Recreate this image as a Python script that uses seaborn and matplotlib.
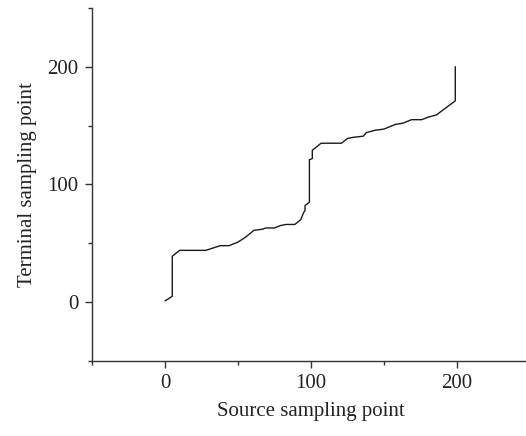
import matplotlib
matplotlib.use("Agg")
import matplotlib.pyplot as plt
import seaborn as sns
import pandas as pd
from matplotlib.ticker import MultipleLocator

source_pts = [0, 5, 5, 10, 28, 33, 38, 44, 50, 55, 61, 67, 69, 75, 79, 83, 89, 93, 94, 95, 96, 96, 99,
              99, 101, 101, 107, 121, 125, 129, 136, 138, 144, 150, 154, 158, 163, 169, 176, 180, 186, 199, 199]
terminal_pts = [1, 5, 39, 44, 44, 46, 48, 48, 51, 55, 61, 62, 63, 63, 65, 66, 66, 70, 73, 76, 78, 82, 85,
                121, 122, 129, 135, 135, 139, 140, 141, 144, 146, 147, 149, 151, 152, 155, 155, 157, 159, 171, 200]

df = pd.DataFrame({"source": source_pts, "terminal": terminal_pts})

sns.set_style("ticks")
plt.rcParams['font.family'] = ['Liberation Serif', 'DejaVu Serif']

fig = plt.figure(figsize=(5.26, 4.36), dpi=100)
ax = fig.add_axes([0.175, 0.172, 0.832, 0.810])

sns.lineplot(data=df, x="source", y="terminal", sort=False, estimator=None,
             color="#1a1a1a", linewidth=1.0, ax=ax)

ax.set_xlim(-50, 250)
ax.set_ylim(-50, 250)
ax.xaxis.set_major_locator(MultipleLocator(100))
ax.yaxis.set_major_locator(MultipleLocator(100))
ax.xaxis.set_minor_locator(MultipleLocator(50))
ax.yaxis.set_minor_locator(MultipleLocator(50))
ax.tick_params(axis="both", which="major", direction="out", length=5, width=1,
               color="#333333", labelsize=15, labelcolor="#222222", pad=5)
ax.tick_params(axis="x", which="major", pad=4)
ax.tick_params(axis="both", which="minor", direction="out", length=3, width=1, color="#333333")

for s in ["top", "right"]:
    ax.spines[s].set_visible(False)
for s in ["left", "bottom"]:
    ax.spines[s].set_color("#333333")
    ax.spines[s].set_linewidth(1.0)

ax.set_xlabel("Source sampling point", fontsize=15, color="#222222", labelpad=7)
ax.set_ylabel("Terminal sampling point", fontsize=15, color="#222222", labelpad=7)

fig.savefig("out.png", dpi=100)
